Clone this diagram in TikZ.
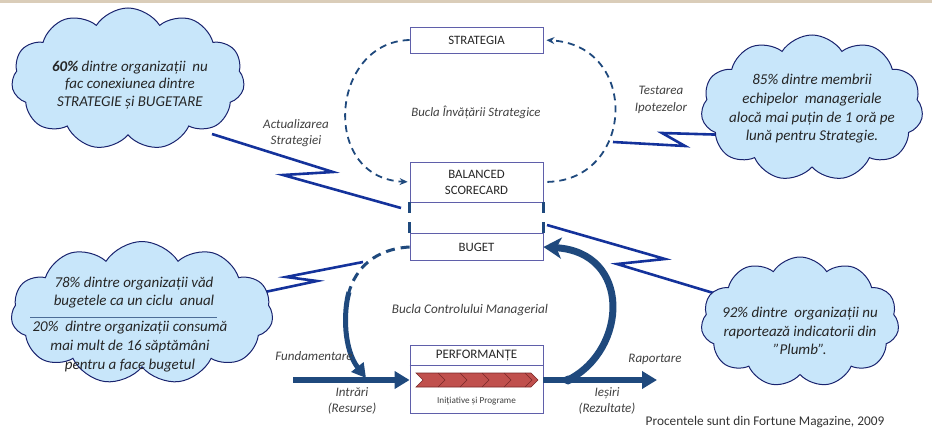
\documentclass[tikz,border=0pt]{standalone}
\usepackage{fontspec}
\setmainfont{Carlito}
\usetikzlibrary{shapes.symbols,arrows.meta}
\definecolor{navy}{RGB}{31,73,125}
\definecolor{zig}{RGB}{20,50,155}
\definecolor{cloudfill}{RGB}{200,230,250}
\definecolor{cloudline}{RGB}{25,35,110}
\definecolor{boxline}{RGB}{95,95,170}
\definecolor{chev}{RGB}{192,80,77}
\definecolor{chevd}{RGB}{120,40,40}
\definecolor{lbl}{RGB}{64,64,64}
\definecolor{band}{RGB}{218,205,185}
\begin{document}
\begin{tikzpicture}[x=1pt,y=-1pt,
  cloudbox/.style={cloud, cloud puffs=11, cloud puff arc=115, cloud ignores aspect, draw=cloudline, line width=1pt, fill=cloudfill, inner sep=0pt},
  ctext/.style={font=\fontsize{15}{18.7}\selectfont\itshape, align=center, text=black!85},
  box/.style={draw=boxline, line width=0.8pt, minimum width=133pt, inner sep=0pt, font=\fontsize{12.8}{16}\selectfont, text=black!85, align=center},
  lab/.style={font=\fontsize{13}{16.5}\selectfont\itshape, text=lbl, align=center},
  zz/.style={draw=zig, line width=2.6pt, line join=miter},
  dloop/.style={draw=navy, line width=1.8pt, dash pattern=on 7pt off 5pt},
  fat/.style={draw=navy, line width=6pt},
]
\useasboundingbox (0,0) rectangle (932,433);
\fill[band] (0,0) rectangle (932,3);

% zigzag connector points
\coordinate (z1a) at (212,134);
\coordinate (z1b) at (333,172);
\coordinate (z1c) at (283,175);
\coordinate (z1d) at (401,208);
\coordinate (z2a) at (613,142);
\coordinate (z2b) at (685,146);
\coordinate (z2c) at (662,133);
\coordinate (z2d) at (730,135);
\coordinate (z3a) at (547,225);
\coordinate (z3b) at (665,259);
\coordinate (z3c) at (617,264);
\coordinate (z3d) at (730,298);
\coordinate (z4a) at (265,292);
\coordinate (z4b) at (317,281);
\coordinate (z4c) at (286,277);
\coordinate (z4d) at (363,262);
\draw[zz] (z1a) -- (z1b) -- (z1c) -- (z1d);
\draw[zz] (z2a) -- (z2b) -- (z2c) -- (z2d);
\draw[zz] (z3a) -- (z3b) -- (z3c) -- (z3d);
\draw[zz] (z4a) -- (z4b) -- (z4c) -- (z4d);

% clouds
\node[cloudbox, minimum width=233pt, minimum height=142pt] (c1) at (128,79) {};
\node[ctext, font=\fontsize{15}{17.5}\selectfont\itshape] (t1) at (130,85) {\textbf{60\%} dintre organizații\ \ nu\\fac conexiunea dintre\\STRATEGIE și BUGETARE};
\node[cloudbox, minimum width=222pt, minimum height=146pt] (c2) at (812,108) {};
\node[ctext] (t2) at (812,109) {85\% dintre\ membrii\\echipelor\ \ manageriale\\alocă mai puțin de 1 oră pe\\lună pentru Strategie.};
\node[cloudbox, minimum width=262pt, minimum height=143pt] (c3) at (142,313) {};
\node[ctext] (t3a) at (134,292.5) {78\% dintre organizații văd\\bugetele ca un ciclu\ \ anual};
\draw[navy!80, line width=0.7pt] (30,317) -- (217,317);
\node[ctext] (t3b) at (130,346.5) {20\%\ \ dintre organizații consumă\\mai mult de 16 săptămâni\\pentru a face bugetul};
\node[cloudbox, minimum width=198pt, minimum height=130pt] (c4) at (800,322) {};
\node[ctext] (t4) at (800,331) {92\% dintre\ \ organizații nu\\raportează indicatorii din\\”Plumb”.};

% boxes
\node[box, minimum height=26pt] (strat) at (476.5,40) {STRATEGIA};
\node[box, minimum height=40pt] (bsc) at (476.5,182) {BALANCED\\SCORECARD};
\node[box, minimum height=27pt] (buget) at (476.5,247) {BUGET};
\node[box, minimum height=68pt] (perf) at (476.5,379) {};
\node[font=\fontsize{13}{15}\selectfont, text=black!85] (perft) at (476.5,355) {PERFORMANȚE};
\draw[boxline, line width=0.8pt] (409.5,365) -- (543.5,365);
\draw[navy, line width=3pt] (bsc.south west) -- ++(0,11);
\draw[navy, line width=3pt] (buget.north west) -- ++(0,-11);
\draw[navy, line width=3pt] (bsc.south east) -- ++(0,11);
\draw[navy, line width=3pt] (buget.north east) -- ++(0,-11);

% chevron
\filldraw[fill=chev, draw=chevd, line width=0.6pt] (416,373) -- (531,373) -- (538,380) -- (531,387) -- (416,387) -- (423,380) -- cycle;
\foreach \cx in {438,460,482,504,525} {
  \draw[chevd, line width=0.6pt] (\cx,373) -- (\cx+7,380) -- (\cx,387);
}
\node[font=\fontsize{9.2}{11}\selectfont, text=black!75] (ip) at (476.5,401) {Inițiative și Programe};

% strategic loop
\draw[dloop, -{Stealth[length=8pt,width=7pt]}, shorten >=2pt] (strat.west) .. controls (330,42) and (320,178) .. (bsc.west);
\draw[dloop, -{Stealth[length=8pt,width=7pt]}, shorten <=4pt, shorten >=3pt] (bsc.east) .. controls (635,180) and (640,45) .. (strat.east);

% management loop
\coordinate (instart) at (293,380);
\coordinate (outend) at (657,380);
\coordinate (kL) at (349,292);
\coordinate (fin) at (366,378);
\node[circle, fill=navy, inner sep=0pt, minimum size=9pt] (dot) at (568,380) {};
\draw[fat, -{Triangle[length=15pt,width=17pt]}] (instart) -- (instart -| perf.west);
\draw[fat, -{Triangle[length=15pt,width=17pt]}] (perf.east |- outend) -- (outend);
\draw[navy, line width=3pt, dash pattern=on 9pt off 6pt] (buget.west) .. controls (375,249) and (356,268) .. (kL);
\draw[navy, line width=5pt, -{Triangle[length=14pt,width=15pt]}] (kL) .. controls (343,313) and (344,350) .. (fin);
\draw[navy, line width=7pt, -{Stealth[length=18pt,width=21pt,inset=5pt]}] (dot.center) .. controls (628,350) and (632,252) .. (buget.east);

% labels
\node[lab] (l1) at (296,133) {Actualizarea\\Strategiei};
\node[lab] (l2) at (661,100) {Testarea\\Ipotezelor};
\node[lab, font=\fontsize{12.8}{15}\selectfont\itshape] (l3) at (476,112) {Bucla Învățării Strategice};
\node[lab, font=\fontsize{13.2}{15}\selectfont\itshape] (l4) at (470,310) {Bucla Controlului Managerial};
\node[lab] (l5) at (314,356) {Fundamentare};
\node[lab] (l6) at (352,401) {Intrări\\(Resurse)};
\node[lab] (l7) at (607,401) {Ieșiri\\(Rezultate)};
\node[lab] (l8) at (655,359) {Raportare};
\node[font=\fontsize{13.3}{15}\selectfont, text=black!80] (src) at (765,422) {Procentele sunt din Fortune Magazine, 2009};
\end{tikzpicture}
\end{document}
